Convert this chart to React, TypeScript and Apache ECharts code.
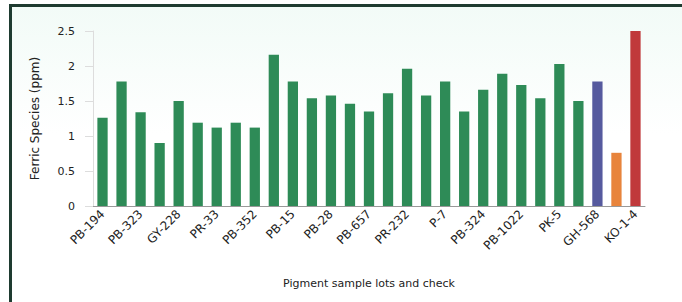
import React, { useEffect, useRef } from "react";
import * as echarts from "echarts";

const categories: string[] = [
  "PB-194", "PB-201", "PB-323", "PB-417", "GY-228", "GY-310", "PR-33", "PR-48",
  "PB-352", "PB-360", "PB-15", "PB-21", "PB-28", "PB-39", "PB-657", "PB-702",
  "PR-232", "PR-240", "P-7", "P-12", "PB-324", "PB-330", "PB-1022", "PB-1040",
  "PK-5", "PK-9", "GH-568", "KO-1-2", "KO-1-4",
];

const values: number[] = [
  1.26, 1.78, 1.34, 0.9, 1.5, 1.19, 1.12, 1.19, 1.12, 2.16, 1.78, 1.54, 1.58,
  1.46, 1.35, 1.61, 1.96, 1.58, 1.78, 1.35, 1.66, 1.89, 1.73, 1.54, 2.03, 1.5,
  1.78, 0.76, 2.5,
];

const barColors: string[] = [
  ...Array(26).fill("#2e8b57"),
  "#565a9e",
  "#e8843c",
  "#c0393b",
];

const yTitle = "Ferric Species (ppm)";
const xTitle = "Pigment sample lots and check";

export default function App() {
  const ref = useRef<HTMLDivElement>(null);
  useEffect(() => {
    if (!ref.current) return;
    const chart = echarts.init(ref.current, undefined, { renderer: "svg" });
    chart.setOption({
      animation: false,
      backgroundColor: "transparent",
      textStyle: { fontFamily: "DejaVu Sans" },
      grid: { left: 81, right: 37, top: 24, bottom: 96 },
      xAxis: {
        type: "category",
        data: categories,
        name: xTitle,
        nameLocation: "middle",
        nameGap: 72,
        nameTextStyle: { fontSize: 11, color: "#222" },
        axisLine: { lineStyle: { color: "#999" } },
        axisTick: { lineStyle: { color: "#ccc" } },
        axisLabel: { rotate: 45, fontSize: 12, color: "#222", interval: 1, margin: 6 },
      },
      yAxis: {
        type: "value",
        min: 0,
        max: 2.5,
        interval: 0.5,
        name: yTitle,
        nameLocation: "middle",
        nameGap: 52,
        nameTextStyle: { fontSize: 12, color: "#222" },
        axisLine: { show: true, lineStyle: { color: "#ddd" } },
        axisTick: { show: true, length: 8, lineStyle: { color: "#ddd" } },
        axisLabel: { fontSize: 11, color: "#222", margin: 18 },
        splitLine: { show: false },
      },
      series: [
        {
          type: "bar",
          data: values.map((v, i) => ({ value: v, itemStyle: { color: barColors[i] } })),
          barCategoryGap: "46%",
        },
      ],
    });
    return () => chart.dispose();
  }, []);
  return (
    <div
      style={{
        position: "absolute",
        left: 9,
        top: 4,
        width: 700,
        height: 320,
        borderTop: "3px solid #1e3b30",
        borderLeft: "3px solid #1e3b30",
        background: "linear-gradient(180deg, #f2fbf7 0%, #ffffff 40%)",
        boxSizing: "border-box",
      }}
    >
      <div ref={ref} style={{ width: 670, height: 295 }} />
    </div>
  );
}
